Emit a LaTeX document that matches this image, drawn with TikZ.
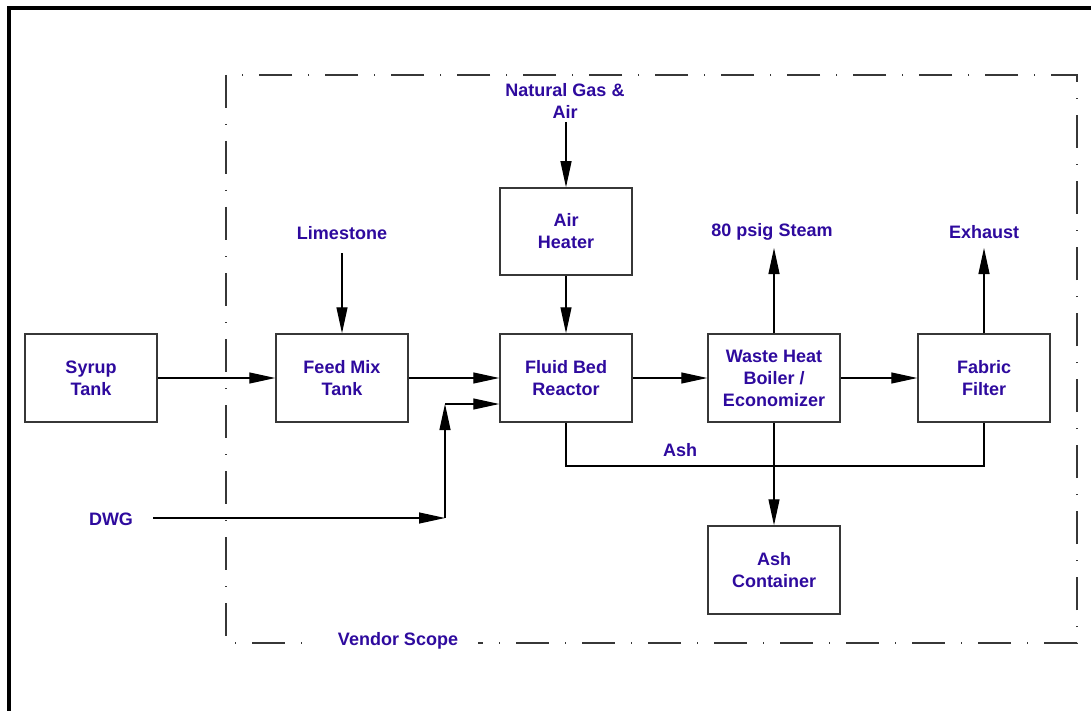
\documentclass[tikz,border=0pt]{standalone}
\usepackage{fontspec}
\setmainfont{Liberation Sans}
\usetikzlibrary{arrows.meta}
\definecolor{txt}{RGB}{46,10,158}
\definecolor{boxline}{RGB}{55,55,55}
\begin{document}
\begin{tikzpicture}[x=1pt,y=-1pt,
  lbl/.style={text=txt,font=\fontsize{18}{22}\selectfont\bfseries,align=center},
  blk/.style={draw=boxline,line width=1.5pt,minimum width=132pt,minimum height=88pt,lbl,inner sep=0pt},
  flow/.style={line width=1.2pt,-{Triangle[length=26pt,width=11pt]}},
  plain/.style={line width=1.2pt},
  scope/.style={draw=boxline,line width=1.1pt,dash pattern=on 33pt off 16pt on 1pt off 16pt}]
\useasboundingbox (0,0) rectangle (1091,711);
\fill[white] (0,0) rectangle (1091,711);
% frame
\draw[line width=4.5pt] (9,711) -- (9,8) -- (1091,8);
% vendor scope
\draw[scope] (226,75) rectangle (1077,643);
\node[lbl,fill=white,inner xsep=20pt,inner ysep=2pt] (vs) at (398,641) {Vendor Scope};
% blocks
\node[blk] (syrup) at (91,378) {Syrup\\Tank};
\node[blk] (feed) at (342,378) {Feed Mix\\Tank};
\node[blk] (fbr) at (566,378) {Fluid Bed\\Reactor};
\node[blk,minimum height=87pt] (ah) at (566,231.5) {Air\\Heater};
\node[blk] (whb) at (774,378) {Waste Heat\\Boiler /\\Economizer};
\node[blk] (ff) at (984,378) {Fabric\\Filter};
\node[blk] (ash) at (774,570) {Ash\\Container};
% labels
\node[lbl] (lime) at (342,233) {Limestone};
\node[lbl] (ng) at (565,101) {Natural Gas \&\\Air};
\node[lbl] (steam) at (772,232) {80 psig Steam};
\node[lbl] (exh) at (984,232) {Exhaust};
\node[lbl] (dwg) at (111,519) {DWG};
\node[lbl] (ashl) at (680,450) {Ash};
% free ends
\coordinate (limeS) at (342,253);
\coordinate (ngS) at (566,122);
\coordinate (steamS) at (774,248);
\coordinate (exhS) at (984,248);
\coordinate (ashy) at (0,466);
\coordinate (dwgE) at (153,518);
\coordinate (bend) at (445,518);
\coordinate (up) at (445,404);
% connectors
\draw[flow] (syrup.east) -- (feed.west);
\draw[flow] (feed.east) -- (fbr.west);
\draw[flow] (fbr.east) -- (whb.west);
\draw[flow] (whb.east) -- (ff.west);
\draw[flow] (limeS) -- (feed.north);
\draw[flow] (ngS) -- (ah.north);
\draw[flow] (ah.south) -- (fbr.north);
\draw[flow] (whb.north) -- (steamS);
\draw[flow] (ff.north) -- (exhS);
\draw[plain] (fbr.south) -- (fbr.south |- ashy) -- (ff.south |- ashy) -- (ff.south);
\draw[flow] (whb.south) -- (ash.north);
\draw[flow] (dwgE) -- (bend);
\draw[flow] (bend) -- (up);
\draw[flow] (up) -- (up -| fbr.west);
\end{tikzpicture}
\end{document}
